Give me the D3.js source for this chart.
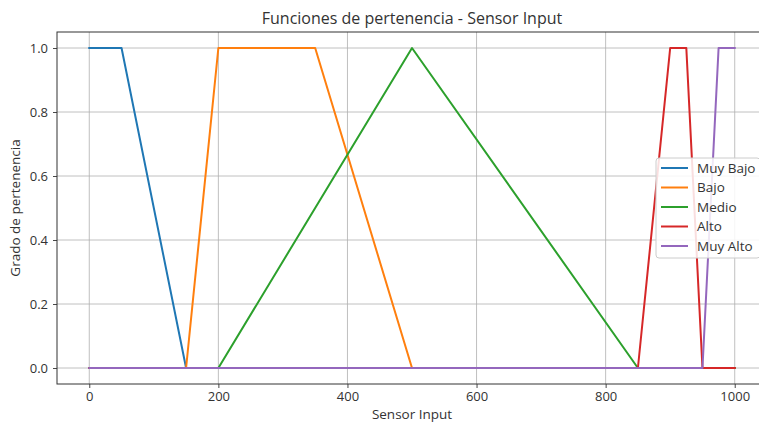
<!DOCTYPE html>
<html>
<head>
<meta charset="utf-8">
<script src="https://cdn.jsdelivr.net/npm/d3@7"></script>
<style>
  body { margin: 0; background: #fff; }
  svg { display: block; font-family: "Open Sans", "Noto Sans", sans-serif; }
</style>
</head>
<body>
<svg id="chart" width="759" height="424"></svg>
<script>
// membership functions, breakpoints
const names = ['Muy Bajo', 'Bajo', 'Medio', 'Alto', 'Muy Alto'];
const colors = ['#1f77b4', '#ff7f0e', '#2ca02c', '#d62728', '#9467bd'];

const muyBajoX = [0, 50, 150, 1000];
const muyBajoY = [1, 1, 0, 0];
const bajoX = [0, 150, 200, 350, 500, 1000];
const bajoY = [0, 0, 1, 1, 0, 0];
const medioX = [0, 200, 500, 850, 1000];
const medioY = [0, 0, 1, 0, 0];
const altoX = [0, 850, 900, 925, 950, 1000];
const altoY = [0, 0, 1, 1, 0, 0];
const muyAltoX = [0, 950, 975, 1000];
const muyAltoY = [0, 0, 1, 1];

const xTicks = [0, 200, 400, 600, 800, 1000];
const yTicks = [0.0, 0.2, 0.4, 0.6, 0.8, 1.0];

const seriesX = [muyBajoX, bajoX, medioX, altoX, muyAltoX];
const seriesY = [muyBajoY, bajoY, medioY, altoY, muyAltoY];

// axes box (right side runs past the window, like the reference crop)
const axL = 57, axR = 767, axT = 32, axB = 384;
const font = '"Open Sans", "Noto Sans", sans-serif';
const ink = '#333';

const svg = d3.select('#chart');

const x = d3.scaleLinear().domain([-50, 1050]).range([axL, axR]);
const y = d3.scaleLinear().domain([-0.05, 1.05]).range([axB, axT]);

// grid
svg.append('g')
    .selectAll('line')
    .data(xTicks)
    .enter()
    .append('line')
    .attr('x1', d => x(d)).attr('x2', d => x(d))
    .attr('y1', axT).attr('y2', axB)
    .attr('stroke', '#b0b0b0').attr('stroke-width', 0.8);

svg.append('g')
    .selectAll('line')
    .data(yTicks)
    .enter()
    .append('line')
    .attr('x1', axL).attr('x2', axR)
    .attr('y1', d => y(d)).attr('y2', d => y(d))
    .attr('stroke', '#b0b0b0').attr('stroke-width', 0.8);

// lines
const line = d3.line().x(d => x(d[0])).y(d => y(d[1]));
names.forEach(function(n, i){
    let pts = seriesX[i].map((v, j) => [v, seriesY[i][j]]);
    svg.append('path')
        .datum(pts)
        .attr('d', line)
        .attr('fill', 'none')
        .attr('stroke', colors[i])
        .attr('stroke-width', 2)
        .attr('stroke-linejoin', 'round')
        .attr('stroke-linecap', 'square');
});

// axes
const xAxis = d3.axisBottom(x).tickValues(xTicks).tickFormat(d3.format('d')).tickSize(4).tickPadding(4);
const yAxis = d3.axisLeft(y).tickValues(yTicks).tickFormat(d3.format('.1f')).tickSize(4).tickPadding(5);

let gx = svg.append('g').attr('transform', `translate(0,${axB})`).call(xAxis);
let gy = svg.append('g').attr('transform', `translate(${axL},0)`).call(yAxis);
[gx, gy].forEach(function(g){
    g.select('.domain').remove();
    g.selectAll('line').attr('stroke', ink).attr('stroke-width', 0.9);
    g.selectAll('text').attr('fill', ink).style('font-size', '13px').style('font-family', font);
});

// spines
svg.append('rect')
    .attr('x', axL).attr('y', axT)
    .attr('width', axR - axL).attr('height', axB - axT)
    .attr('fill', 'none').attr('stroke', ink).attr('stroke-width', 1);

// labels
svg.append('text')
    .attr('x', (axL + axR) / 2).attr('y', 24)
    .attr('text-anchor', 'middle')
    .style('font-size', '16px').attr('fill', ink)
    .text('Funciones de pertenencia - Sensor Input');

svg.append('text')
    .attr('x', (axL + axR) / 2).attr('y', 419)
    .attr('text-anchor', 'middle')
    .style('font-size', '13.5px').attr('fill', ink)
    .text('Sensor Input');

svg.append('text')
    .attr('transform', `translate(20,${(axT + axB) / 2}) rotate(-90)`)
    .attr('text-anchor', 'middle')
    .style('font-size', '13.5px').attr('fill', ink)
    .text('Grado de pertenencia');

// legend
let lg = svg.append('g').attr('transform', 'translate(656,158)');
lg.append('rect')
    .attr('width', 104).attr('height', 100)
    .attr('rx', 3)
    .attr('fill', 'white').attr('fill-opacity', 0.85)
    .attr('stroke', '#cccccc').attr('stroke-width', 1);

names.forEach(function(n, i){
    let yy = 10 + i * 19.5;
    lg.append('line')
        .attr('x1', 5).attr('x2', 32)
        .attr('y1', yy).attr('y2', yy)
        .attr('stroke', colors[i]).attr('stroke-width', 2);
    lg.append('text')
        .attr('x', 41).attr('y', yy)
        .attr('dy', '0.35em')
        .style('font-size', '13.5px').attr('fill', ink)
        .text(n);
});
</script>
</body>
</html>
